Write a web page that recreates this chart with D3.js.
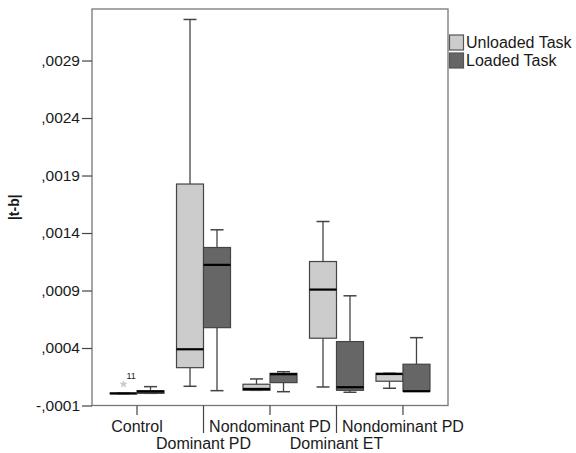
<!DOCTYPE html>
<html><head><meta charset="utf-8">
<script src="https://cdn.jsdelivr.net/npm/d3@7"></script>
<style>
body{margin:0;background:#fff;}
text{font-family:"Liberation Sans",Arial,sans-serif;fill:#1a1a1a;}
</style></head>
<body>
<svg id="chart" width="576" height="453"></svg>
<script>
const categories = ["Control","Dominant PD","Nondominant PD","Dominant ET","Nondominant PD "];
const labelRow = [0,1,0,1,0];
const seriesNames = ["Unloaded Task","Loaded Task"];
// [min, q1, median, q3, max]
const unloaded = [
  [0.000003, 0.000003, 0.000005, 0.000007, 0.000007],
  [0.000067, 0.000229, 0.000389, 0.001826, 0.003257],
  [0.000032, 0.000032, 0.000044, 0.000085, 0.000131],
  [0.000061, 0.000485, 0.000908, 0.001152, 0.001500],
  [0.000050, 0.000111, 0.000174, 0.000180, 0.000180]
];
const loaded = [
  [0.000006, 0.000006, 0.000022, 0.000029, 0.000064],
  [0.000029, 0.000577, 0.001123, 0.001274, 0.001428],
  [0.000020, 0.000099, 0.000172, 0.000180, 0.000194],
  [0.000015, 0.000032, 0.000059, 0.000456, 0.000854],
  [0.000024, 0.000024, 0.000024, 0.000259, 0.000490]
];
// outliers: [categoryIndex, seriesIndex, value, label]
const outliers = [[0, 0, 0.000085, "11"]];
const yTicks = [-0.0001, 0.0004, 0.0009, 0.0014, 0.0019, 0.0024, 0.0029];
const yTickLabels = ["-,0001", ",0004", ",0009", ",0014", ",0019", ",0024", ",0029"];
const fills = ["#cccccc", "#666666"];

const svg = d3.select("#chart");
const L = 92, R = 448, T = 9, B = 405.5;
const y = d3.scaleLinear().domain([-0.0001, 0.003348]).range([B, T]);
const x = d3.scaleBand().domain(d3.range(categories.length)).range([L, R]).paddingOuter(0.177).paddingInner(0);
const boxW = 27;

// frame
svg.append("rect").attr("x", L).attr("y", T).attr("width", R - L).attr("height", B - T)
  .attr("fill", "none").attr("stroke", "#777").attr("stroke-width", 1.3);

// y axis
const yAxis = d3.axisLeft(y).tickValues(yTicks).tickFormat((d, i) => yTickLabels[i]).tickSizeOuter(0).tickSize(10).tickPadding(2);
const ya = svg.append("g").attr("transform", `translate(${L},0)`).call(yAxis);
ya.select(".domain").remove();
ya.selectAll("line").attr("stroke", "#444").attr("stroke-width", 1.2);
ya.selectAll("text").style("font-size", "15.5px").attr("fill", "#1a1a1a");

// x ticks and labels
const xg = svg.append("g");
categories.forEach((c, i) => {
  const cx = x(i) + x.bandwidth() / 2;
  xg.append("line").attr("x1", cx).attr("x2", cx).attr("y1", B).attr("y2", labelRow[i] ? 433 : 415)
    .attr("stroke", "#444").attr("stroke-width", 1.2);
  xg.append("text").attr("x", cx).attr("y", labelRow[i] ? 449 : 432).attr("text-anchor", "middle")
    .style("font-size", "16px").text(c.trim());
});

// y label
svg.append("text").attr("transform", `translate(19,${(T + B) / 2}) rotate(-90)`).attr("text-anchor", "middle")
  .style("font-size", "14px").style("font-weight", "bold").text("|t-b|");

// boxes
const series = [unloaded, loaded];
series.forEach((data, s) => {
  data.forEach((d, i) => {
    const cx = x(i) + x.bandwidth() / 2;
    const left = s === 0 ? cx - boxW : cx;
    const mid = left + boxW / 2;
    const g = svg.append("g");
    const [mn, q1, md, q3, mx] = d;
    g.append("line").attr("x1", mid).attr("x2", mid).attr("y1", y(q3)).attr("y2", y(mx)).attr("stroke", "#444").attr("stroke-width", 1.3);
    g.append("line").attr("x1", mid).attr("x2", mid).attr("y1", y(q1)).attr("y2", y(mn)).attr("stroke", "#444").attr("stroke-width", 1.3);
    g.append("line").attr("x1", mid - 6.5).attr("x2", mid + 6.5).attr("y1", y(mx)).attr("y2", y(mx)).attr("stroke", "#444").attr("stroke-width", 1.5);
    g.append("line").attr("x1", mid - 6.5).attr("x2", mid + 6.5).attr("y1", y(mn)).attr("y2", y(mn)).attr("stroke", "#444").attr("stroke-width", 1.5);
    g.append("rect").attr("x", left).attr("y", y(q3)).attr("width", boxW).attr("height", Math.max(0.5, y(q1) - y(q3)))
      .attr("fill", fills[s]).attr("stroke", "#444").attr("stroke-width", 1.2);
    g.append("line").attr("x1", left).attr("x2", left + boxW).attr("y1", y(md)).attr("y2", y(md)).attr("stroke", "#000").attr("stroke-width", 2.2);
  });
});

// outliers
outliers.forEach(([i, s, v, lab]) => {
  const cx = x(i) + x.bandwidth() / 2;
  const mid = (s === 0 ? cx - boxW : cx) + boxW / 2;
  svg.append("path").attr("d", d3.symbol(d3.symbolStar, 14)()).attr("transform", `translate(${mid},${y(v)})`)
    .attr("fill", "#ccc").attr("stroke", "#bbb").attr("stroke-width", 0.5);
  svg.append("text").attr("x", mid + 3).attr("y", y(v) - 5).style("font-size", "9px").attr("fill", "#444").text(lab);
});

// legend
const lg = svg.append("g");
seriesNames.forEach((n, i) => {
  const yy = 35 + i * 18;
  lg.append("rect").attr("x", 449.5).attr("y", yy).attr("width", 14).attr("height", 15)
    .attr("fill", fills[i]).attr("stroke", "#555").attr("stroke-width", 1.2);
  lg.append("text").attr("x", 466).attr("y", yy + 13).style("font-size", "16px").text(n);
});
</script>
</body></html>
